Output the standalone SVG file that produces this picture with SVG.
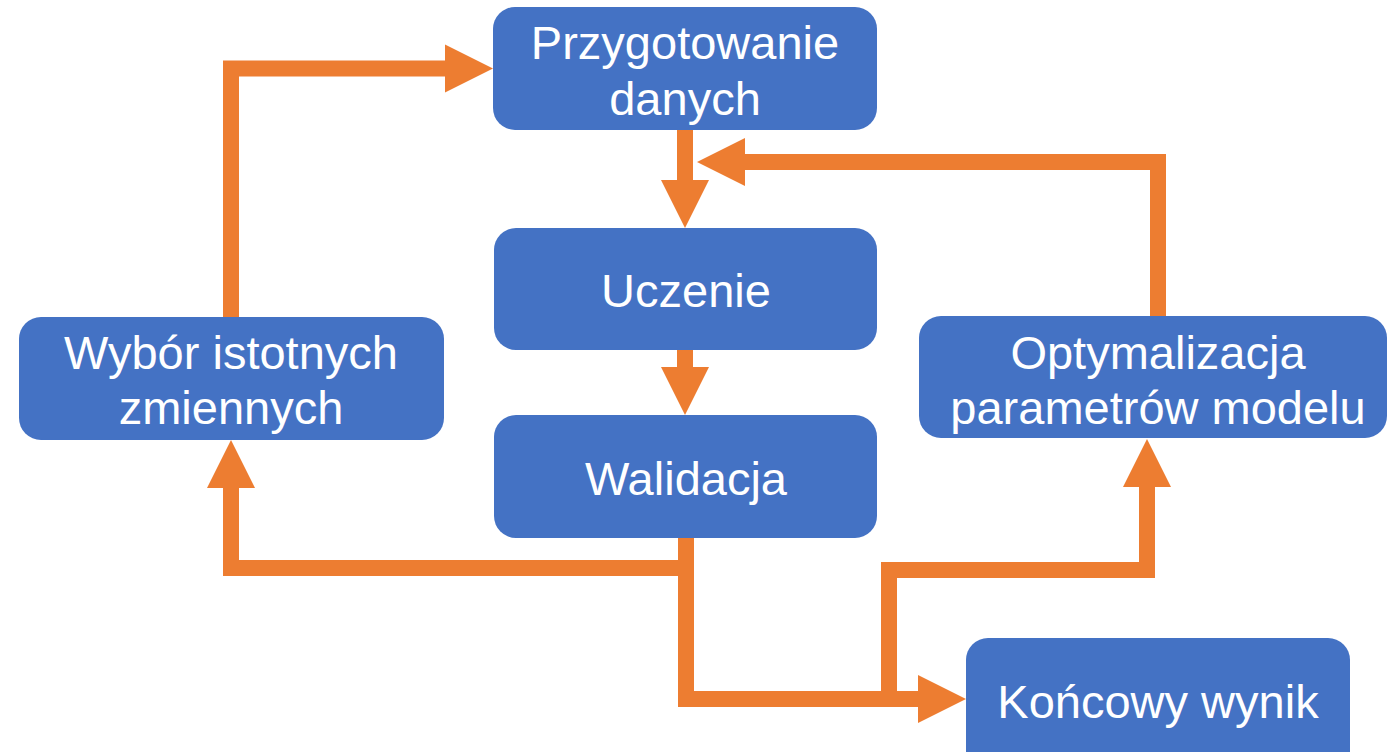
<svg xmlns="http://www.w3.org/2000/svg" width="1388" height="752" viewBox="0 0 1388 752">
<style>
.box{fill:#4472C4;}
.lbl{fill:#FFFFFF;font-family:"Liberation Sans",Arial,sans-serif;font-size:47px;text-anchor:middle;}
.con{fill:none;stroke:#ED7D31;stroke-width:16;stroke-linejoin:miter;stroke-linecap:butt;marker-end:url(#ah);}
.con2{fill:none;stroke:#ED7D31;stroke-width:16;stroke-linejoin:miter;stroke-linecap:butt;}
</style>
<defs>
<marker id="ah" viewBox="0 -24 48 48" refX="0" refY="0" markerWidth="48" markerHeight="48" markerUnits="userSpaceOnUse" orient="auto" overflow="visible">
<path d="M0,-24 L48,0 L0,24 Z" fill="#ED7D31"/>
</marker>
</defs>
<rect width="1388" height="752" fill="#FFFFFF"/>
<g id="connectors">
<path class="con" d="M231,317 V68.5 H445"/>
<path class="con" d="M685,130 V180"/>
<path class="con" d="M1158,316 V162 H745"/>
<path class="con" d="M685,350 V367"/>
<path class="con" d="M686,538 V699 H918"/>
<path class="con" d="M686,568 H231 V488"/>
<path class="con" d="M889,707 V570 H1147 V487"/>
</g>
<g id="n-przygotowanie">
<rect class="box" x="493" y="7" width="384" height="123" rx="22"/>
<text class="lbl" x="685" y="59">Przygotowanie</text>
<text class="lbl" x="685" y="115">danych</text>
</g>
<g id="n-uczenie">
<rect class="box" x="494" y="228" width="383" height="122" rx="22"/>
<text class="lbl" x="686" y="307">Uczenie</text>
</g>
<g id="n-walidacja">
<rect class="box" x="494" y="415" width="383" height="123" rx="22"/>
<text class="lbl" x="686" y="495">Walidacja</text>
</g>
<g id="n-wybor">
<rect class="box" x="19" y="317" width="425" height="123" rx="22"/>
<text class="lbl" x="231" y="369">Wybór istotnych</text>
<text class="lbl" x="231" y="424">zmiennych</text>
</g>
<g id="n-optymalizacja">
<rect class="box" x="919" y="316" width="468" height="122" rx="22"/>
<text class="lbl" x="1158" y="369">Optymalizacja</text>
<text class="lbl" x="1158" y="424">parametrów modelu</text>
</g>
<g id="n-koncowy">
<rect class="box" x="966" y="638" width="384" height="140" rx="22"/>
<text class="lbl" x="1158" y="718">Końcowy wynik</text>
</g>
</svg>
